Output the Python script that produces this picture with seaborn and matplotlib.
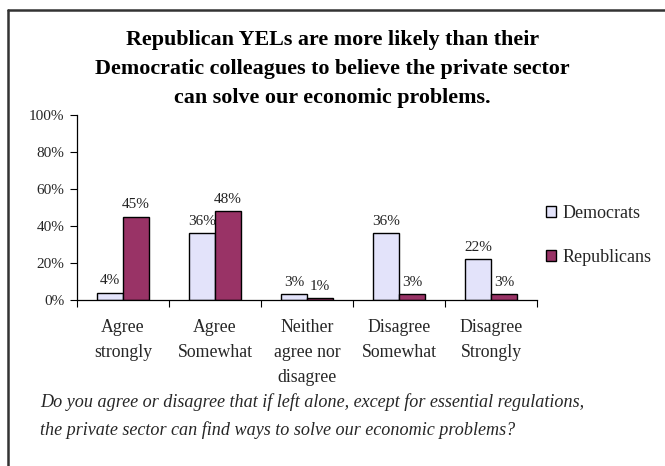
import matplotlib
matplotlib.use("Agg")
import matplotlib.pyplot as plt
import seaborn as sns
import pandas as pd
from matplotlib.lines import Line2D
from matplotlib.patches import Patch

categories = ["Agree\nstrongly", "Agree\nSomewhat", "Neither\nagree nor\ndisagree",
              "Disagree\nSomewhat", "Disagree\nStrongly"]
democrats = [4, 36, 3, 36, 22]
republicans = [45, 48, 1, 3, 3]
series = ["Democrats", "Republicans"]
colors = ["#E3E3FA", "#993366"]
yticks = [0, 20, 40, 60, 80, 100]
title = ("Republican YELs are more likely than their\n"
         "Democratic colleagues to believe the private sector\n"
         "can solve our economic problems.")
caption = ("Do you agree or disagree that if left alone, except for essential regulations,\n"
           "the private sector can find ways to solve our economic problems?")

df = pd.DataFrame({
    "cat": categories * 2,
    "val": democrats + republicans,
    "party": [series[0]] * len(categories) + [series[1]] * len(categories),
})

sns.set_theme(style="white")
plt.rcParams["font.family"] = ["Liberation Serif", "DejaVu Serif"]

fig = plt.figure(figsize=(6.65, 4.66), dpi=100)
ax = fig.add_axes([0.1158, 0.3562, 0.8075 - 0.1158, 0.7532 - 0.3562])

sns.barplot(data=df, x="cat", y="val", hue="party", palette=colors, width=0.565,
            edgecolor="black", linewidth=1.0, ax=ax, legend=False, saturation=1)

for cont in ax.containers:
    ax.bar_label(cont, labels=[f"{int(v)}%" for v in cont.datavalues],
                 padding=4, fontsize=11, color="#222222")

ax.set_ylim(0, 100)
ax.set_xlim(-0.5, len(categories) - 0.5)
ax.set_yticks(yticks)
ax.set_yticklabels([f"{t}%" for t in yticks], fontsize=11)
ax.set_xticks(range(len(categories)))
ax.set_xticklabels(categories, fontsize=12.8, linespacing=1.6)
ax.set_xticks([i - 0.5 for i in range(len(categories) + 1)], minor=True)
ax.tick_params(axis="x", which="major", length=0, pad=14)
ax.tick_params(axis="x", which="minor", length=5, width=0.8, direction="out", bottom=True, color="black")
ax.tick_params(axis="y", which="major", length=5, width=0.8, direction="out", left=True, color="black", pad=4)
ax.set_xlabel("")
ax.set_ylabel("")
for s in ["top", "right"]:
    ax.spines[s].set_visible(False)
for s in ["left", "bottom"]:
    ax.spines[s].set_color("black")
    ax.spines[s].set_linewidth(0.9)

handles = [Patch(facecolor=c, edgecolor="black", linewidth=1.0) for c in colors]
fig.legend(handles, series, loc="center left", bbox_to_anchor=(0.796, 0.4946),
           frameon=False, fontsize=13, handlelength=0.6, handleheight=0.6,
           handletextpad=0.35, labelspacing=1.5)

fig.text(0.5, 0.936, title, ha="center", va="top", fontsize=15.8, fontweight="bold",
         linespacing=1.62, color="black")
fig.text(0.06, 0.107, caption, ha="left", va="center", fontsize=13.1, style="italic",
         linespacing=1.75)

# outer frame (top and left edges visible)
fig.add_artist(Line2D([0.012, 1.0], [0.978, 0.978], color="#333333", lw=1.8, transform=fig.transFigure))
fig.add_artist(Line2D([0.012, 0.012], [0.0, 0.978], color="#333333", lw=1.8, transform=fig.transFigure))

fig.savefig("out.png", dpi=100)
